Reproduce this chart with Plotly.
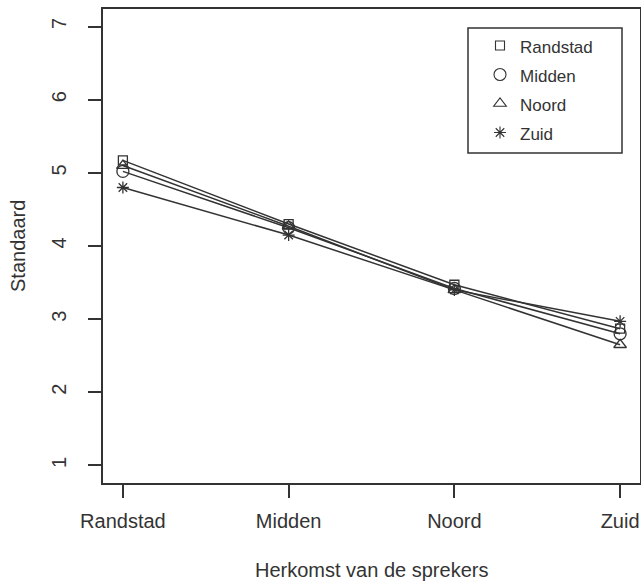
import plotly.graph_objects as go

categories = ["Randstad", "Midden", "Noord", "Zuid"]
series_names = ["Randstad", "Midden", "Noord", "Zuid"]
randstad = [5.17, 4.30, 3.47, 2.87]
midden = [5.02, 4.25, 3.42, 2.80]
noord = [5.10, 4.27, 3.40, 2.65]
zuid = [4.80, 4.15, 3.40, 2.97]
y_ticks = [1, 2, 3, 4, 5, 6, 7]

values = [randstad, midden, noord, zuid]
symbols = ["square-open", "circle-open", "triangle-up-open", "asterisk-open"]
sizes = [9, 12, 11, 10]

ink = "#333333"
font = "Liberation Sans, Arial, sans-serif"
xpos = list(range(1, len(categories) + 1))

W, H = 641, 584
L, R, T, B = 103, 1, 9, 101
PW, PH = W - L - R, H - T - B
bottom = H - B

fig = go.Figure()
for name, vals, sym, sz in zip(series_names, values, symbols, sizes):
    fig.add_trace(go.Scatter(
        x=xpos, y=vals, mode="lines+markers", showlegend=False,
        line=dict(color=ink, width=1.5),
        marker=dict(symbol=sym, size=sz, color=ink, line=dict(color=ink, width=1.3)),
    ))
for name, sym, sz in zip(series_names, symbols, sizes):
    fig.add_trace(go.Scatter(
        x=[None], y=[None], mode="markers",
        name="<span style='font-size:17px'>" + name + "</span>",
        marker=dict(symbol=sym, size=sz, color=ink, line=dict(color=ink, width=1.1)),
    ))

fig.update_layout(
    width=W, height=H,
    margin=dict(l=L, r=R, t=T, b=B, autoexpand=False),
    paper_bgcolor="white", plot_bgcolor="white",
    font=dict(family=font, size=20, color=ink),
    showlegend=True,
    legend=dict(x=(480 - L) / PW, y=(bottom - 26) / PH, xanchor="left", yanchor="top",
                bgcolor="rgba(0,0,0,0)", borderwidth=0,
                font=dict(size=20, color=ink), itemsizing="trace"),
    shapes=[dict(type="rect", xref="paper", yref="paper",
                 x0=(468 - L) / PW, x1=(622 - L) / PW,
                 y0=(bottom - 153) / PH, y1=(bottom - 28) / PH,
                 line=dict(color=ink, width=1.5))],
    annotations=[
        dict(text="Herkomst van de sprekers", xref="paper", yref="paper",
             x=0.5, y=-(570 - bottom) / PH, xanchor="center", yanchor="middle",
             showarrow=False, font=dict(size=20, color=ink)),
        dict(text="Standaard", xref="paper", yref="paper", textangle=-90,
             x=(18 - L) / PW, y=0.5, xanchor="center", yanchor="middle",
             showarrow=False, font=dict(size=20, color=ink), borderpad=0),
    ],
)
fig.update_xaxes(
    range=[0.88, 4.12], tickmode="array", tickvals=xpos, ticktext=categories,
    automargin=False,
    showgrid=False, zeroline=False, showline=True, mirror=True,
    linecolor=ink, linewidth=1.5, ticks="outside", ticklen=13, tickwidth=1.5,
    tickcolor=ink, tickfont=dict(size=20, color=ink), ticklabelstandoff=6,
)
fig.update_yaxes(
    range=[0.76, 7.24], tickmode="array", tickvals=y_ticks,
    automargin=False,
    showgrid=False, zeroline=False, showline=True, mirror=True,
    linecolor=ink, linewidth=1.5, ticks="outside", ticklen=13, tickwidth=1.5,
    tickcolor=ink, tickangle=-90, tickfont=dict(size=20, color=ink),
    ticklabelstandoff=14,
)
fig.write_html(
    "out.html",
    config={"displayModeBar": False},
    post_script="document.body.style.margin='0';",
)
